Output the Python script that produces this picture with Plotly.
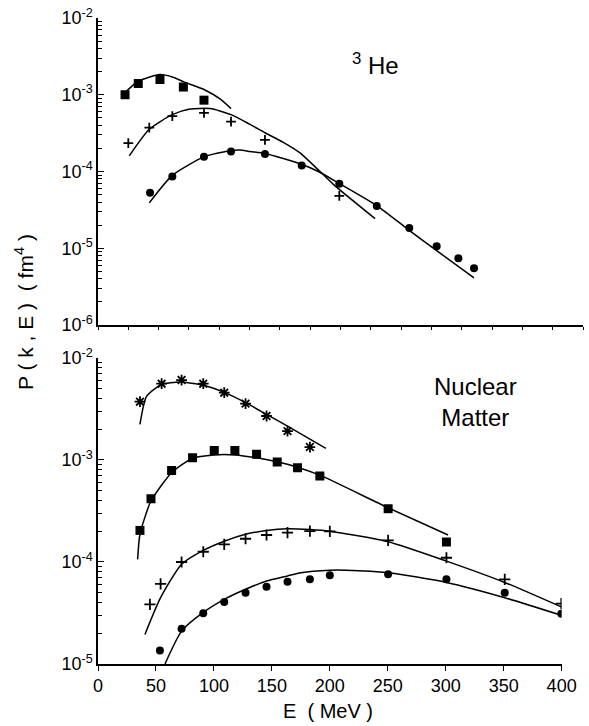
import plotly.graph_objects as go

# ---------- Top panel: 3He ----------
he_sq_E = [22.3, 33.2, 51.1, 70.4, 87.4]
he_sq_P = [1.0e-3, 1.40e-3, 1.58e-3, 1.26e-3, 8.5e-4]
he_sq_curve_E = [22.3, 33.2, 51.1, 61.4, 71.3, 87.4, 101.2, 109.7]
he_sq_curve_P = [1.07e-3, 1.5e-3, 1.83e-3, 1.7e-3, 1.46e-3, 1.17e-3, 8.7e-4, 6.6e-4]

he_pl_E = [25.0, 42.3, 61.3, 87.4, 109.7, 137.7, 199.0]
he_pl_P = [2.34e-4, 3.73e-4, 5.28e-4, 5.8e-4, 4.46e-4, 2.58e-4, 4.8e-5]
he_pl_curve_E = [25.8, 42.3, 61.3, 75.9, 92.4, 109.7, 125.4, 137.7, 152.8, 166.6, 181.7, 194.1, 228.5]
he_pl_curve_P = [1.6e-4, 3.55e-4, 5.5e-4, 6.5e-4, 6.6e-4, 5.5e-4, 4.1e-4, 3.2e-4, 2.4e-4,
                 1.75e-4, 1.05e-4, 6.8e-5, 2.43e-5]

he_ci_E = [42.9, 61.3, 87.4, 109.7, 137.7, 168.0, 199.0, 229.9, 256.7, 279.3, 297.2, 310.1]
he_ci_P = [5.27e-5, 8.6e-5, 1.56e-4, 1.82e-4, 1.69e-4, 1.2e-4, 6.9e-5, 3.55e-5, 1.84e-5,
           1.06e-5, 7.4e-6, 5.5e-6]
he_ci_curve_E = [42.3, 61.3, 87.4, 109.7, 117.1, 125.4, 137.7, 166.6, 181.7, 198.2, 229.9, 256.7, 279.3, 310.1]
he_ci_curve_P = [3.9e-5, 8.9e-5, 1.55e-4, 1.88e-4, 1.91e-4, 1.82e-4, 1.72e-4, 1.26e-4, 1.0e-4,
                 7.1e-5, 3.6e-5, 1.71e-5, 9.3e-6, 4.1e-6]

# ---------- Bottom panel: Nuclear Matter ----------
nm_st_E = [36.2, 54.9, 72.1, 90.8, 108.9, 127.3, 145.4, 163.5, 182.8]
nm_st_P = [3.73e-3, 5.6e-3, 6.08e-3, 5.6e-3, 4.57e-3, 3.57e-3, 2.7e-3, 1.92e-3, 1.34e-3]
nm_st_curve_E = [36.2, 41.9, 54.9, 71.0, 90.8, 108.9, 127.3, 145.4, 163.5, 196.6]
nm_st_curve_P = [2.24e-3, 4.2e-3, 5.5e-3, 5.8e-3, 5.4e-3, 4.6e-3, 3.65e-3, 2.8e-3, 2.15e-3, 1.3e-3]

nm_sq_E = [36.2, 45.7, 63.5, 81.6, 100.3, 118.1, 136.8, 154.6, 172.1, 191.4, 250.3, 300.6]
nm_sq_P = [2.04e-4, 4.18e-4, 7.9e-4, 1.05e-3, 1.24e-3, 1.24e-3, 1.14e-3, 9.55e-4, 8.4e-4,
           6.97e-4, 3.33e-4, 1.57e-4]
nm_sq_curve_E = [34.2, 36.2, 45.7, 63.5, 81.6, 100.3, 118.1, 136.8, 154.6, 172.1, 191.4, 250.3, 302.0]
nm_sq_curve_P = [1.06e-4, 1.87e-4, 3.96e-4, 7.5e-4, 1.04e-3, 1.12e-3, 1.12e-3, 1.05e-3, 9.6e-4,
                 8.5e-4, 7.1e-4, 3.4e-4, 1.84e-4]

nm_pl_E = [44.8, 54.0, 72.1, 90.8, 108.9, 127.3, 145.4, 163.5, 182.8, 200.0, 250.3, 300.6, 350.9, 399.7]
nm_pl_P = [3.85e-5, 6.1e-5, 1.0e-4, 1.26e-4, 1.49e-4, 1.69e-4, 1.84e-4, 1.94e-4, 2.01e-4,
           2.0e-4, 1.63e-4, 1.1e-4, 6.76e-5, 3.9e-5]
nm_pl_curve_E = [40.5, 54.0, 72.1, 90.8, 108.9, 127.3, 145.4, 163.5, 182.8, 200.0, 250.3, 300.6, 350.9, 399.7]
nm_pl_curve_P = [1.95e-5, 4.47e-5, 9.5e-5, 1.3e-4, 1.6e-4, 1.87e-4, 2.04e-4, 2.12e-4, 2.08e-4,
                 2.0e-4, 1.58e-4, 1.02e-4, 6.3e-5, 3.63e-5]

nm_ci_E = [53.4, 72.1, 90.8, 108.9, 127.3, 145.4, 163.5, 182.8, 200.0, 250.3, 300.6, 350.9, 399.7]
nm_ci_P = [1.36e-5, 2.22e-5, 3.14e-5, 4.05e-5, 5.0e-5, 5.73e-5, 6.4e-5, 6.76e-5, 7.4e-5,
           7.57e-5, 6.76e-5, 5.0e-5, 3.11e-5]
nm_ci_curve_E = [57.8, 72.1, 90.8, 108.9, 127.3, 145.4, 163.5, 175.0, 200.0, 214.0, 250.3, 300.6, 350.9, 399.7]
nm_ci_curve_P = [1.0e-5, 2.1e-5, 3.2e-5, 4.3e-5, 5.4e-5, 6.5e-5, 7.3e-5, 7.85e-5, 8.3e-5,
                 8.3e-5, 7.85e-5, 6.3e-5, 4.47e-5, 3.0e-5]

x_ticks = [0, 50, 100, 150, 200, 250, 300, 350, 400]
top_y_ticks = [1e-6, 1e-5, 1e-4, 1e-3, 1e-2]
top_y_text = ["10<sup>-6</sup>", "10<sup>-5</sup>", "10<sup>-4</sup>", "10<sup>-3</sup>", "10<sup>-2</sup>"]
bot_y_ticks = [1e-5, 1e-4, 1e-3, 1e-2]
bot_y_text = ["10<sup>-5</sup>", "10<sup>-4</sup>", "10<sup>-3</sup>", "10<sup>-2</sup>"]
minor_mults = [2, 3, 4, 5, 6, 7, 8, 9]

FONT = "Liberation Sans, Arial, sans-serif"
LINE = dict(color="black", width=1.5, shape="spline", smoothing=0.6)

fig = go.Figure()


def add_set(E, P, cE, cP, symbol, size, xa, ya, open_marker=False):
    fig.add_trace(go.Scatter(x=cE, y=cP, mode="lines", line=LINE, xaxis=xa, yaxis=ya,
                             showlegend=False, hoverinfo="skip"))
    if open_marker:
        marker = dict(symbol=symbol, size=size, color="black", line=dict(color="black", width=1.8))
    else:
        marker = dict(symbol=symbol, size=size, color="black", line=dict(width=0))
    fig.add_trace(go.Scatter(x=E, y=P, mode="markers", marker=marker, xaxis=xa, yaxis=ya,
                             showlegend=False))


# top panel
add_set(he_sq_E, he_sq_P, he_sq_curve_E, he_sq_curve_P, "square", 9, "x2", "y2")
add_set(he_pl_E, he_pl_P, he_pl_curve_E, he_pl_curve_P, "cross-thin", 7, "x2", "y2", True)
add_set(he_ci_E, he_ci_P, he_ci_curve_E, he_ci_curve_P, "circle", 8, "x2", "y2")
# bottom panel
add_set(nm_st_E, nm_st_P, nm_st_curve_E, nm_st_curve_P, "asterisk", 9, "x", "y", True)
add_set(nm_sq_E, nm_sq_P, nm_sq_curve_E, nm_sq_curve_P, "square", 9, "x", "y")
add_set(nm_pl_E, nm_pl_P, nm_pl_curve_E, nm_pl_curve_P, "cross-thin", 8, "x", "y", True)
add_set(nm_ci_E, nm_ci_P, nm_ci_curve_E, nm_ci_curve_P, "circle", 8, "x", "y")


def minor_vals(lo, hi):
    vals = []
    for d in range(lo, hi):
        for m in minor_mults:
            vals.append(m * 10.0 ** d)
    return vals


axis_common = dict(showline=True, linecolor="black", linewidth=1.5, showgrid=False, zeroline=False,
                   mirror=False, tickcolor="black", automargin=False, ticklabeloverflow="allow")


def ylog(lo, hi):
    return dict(type="log", ticks="inside", ticklen=6, tickwidth=1.2,
                minor=dict(ticks="inside", ticklen=4, tickwidth=1, tickcolor="black", showgrid=False,
                           tickvals=minor_vals(lo, hi)),
                tickfont=dict(family=FONT, size=18, color="black"))


ann_font = dict(family=FONT, color="black")

fig.update_layout(
    width=589, height=726,
    margin=dict(l=98, r=5, t=18, b=62),
    paper_bgcolor="white", plot_bgcolor="white",
    font=dict(family=FONT, color="black"),
    xaxis=dict(**axis_common, domain=[0, 0.954], range=[0, 400], tickvals=x_ticks,
               ticks="outside", ticklen=5, tickwidth=1.2,
               tickfont=dict(family=FONT, size=18, color="black"), anchor="y"),
    yaxis=dict(**axis_common, **ylog(-5, -2), domain=[0, 0.4737], range=[-5, -2],
               tickvals=bot_y_ticks, ticktext=bot_y_text, anchor="x"),
    xaxis2=dict(**axis_common, domain=[0, 0.998], range=[0, 400], dtick=25, tick0=0,
                ticks="outside", ticklen=3, tickwidth=1, showticklabels=False, anchor="y2"),
    yaxis2=dict(**axis_common, **ylog(-6, -2), domain=[0.5248, 1], range=[-6, -2],
                tickvals=top_y_ticks, ticktext=top_y_text, anchor="x2"),
    annotations=[
        dict(text="<sup>3</sup> He", x=0.570, y=0.929, xref="paper", yref="paper",
             xanchor="center", yanchor="middle", showarrow=False, font=dict(**ann_font, size=24)),
        dict(text="Nuclear<br>Matter", x=0.776, y=0.4056, xref="paper", yref="paper",
             xanchor="center", yanchor="middle", showarrow=False, font=dict(**ann_font, size=24)),
        dict(text="P ( k , E )  ( fm<sup>4</sup> )", x=-0.152, y=0.545, xref="paper", yref="paper",
             xanchor="center", yanchor="middle", textangle=-90, showarrow=False,
             font=dict(**ann_font, size=21)),
        dict(text="E  ( MeV )", x=0.473, y=-0.073, xref="paper", yref="paper",
             xanchor="center", yanchor="middle", showarrow=False, font=dict(**ann_font, size=20)),
    ],
)

fig.write_html("out.html", config={"displayModeBar": False},
               post_script="document.body.style.margin='0';document.body.style.padding='0';")
